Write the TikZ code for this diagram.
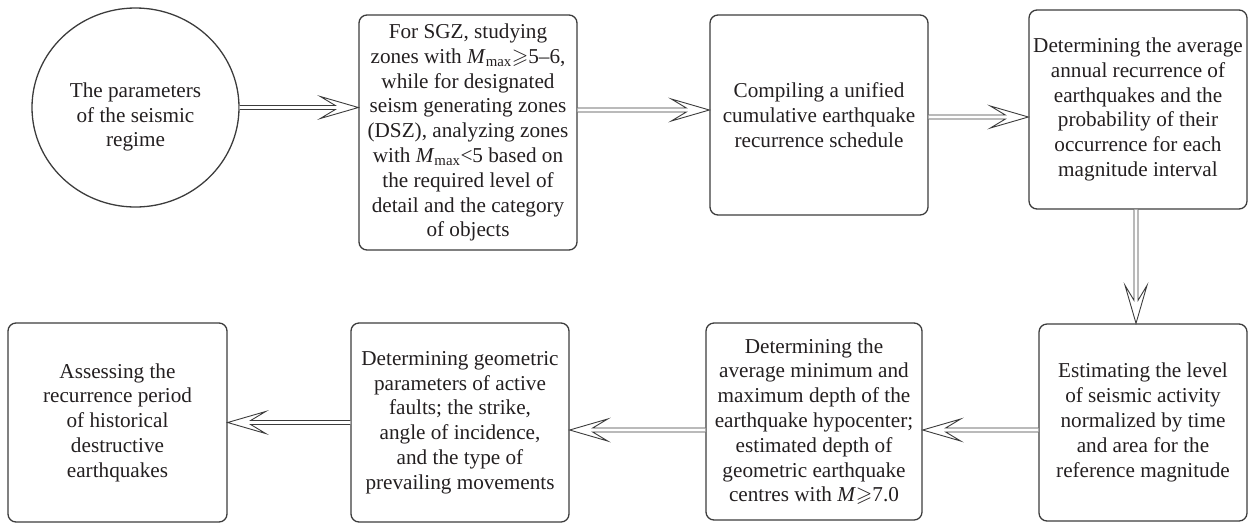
\documentclass[tikz,border=0pt]{standalone}
\usepackage{fontspec}
\setmainfont{Liberation Serif}
\usepackage{amssymb}
\usetikzlibrary{calc,shapes.geometric}
\definecolor{linec}{RGB}{60,60,60}
\definecolor{txtc}{RGB}{35,31,32}
\tikzset{
  box/.style={draw=linec, line width=1.3pt, rounded corners=8pt, align=center,
    inner sep=0pt, font=\rmfamily\fontsize{21.2}{24.8}\selectfont, text=txtc},
  ringnode/.style={draw=linec, line width=1.3pt, ellipse, inner sep=0pt},
  lbl/.style={align=center, inner sep=0pt, font=\rmfamily\fontsize{21.2}{24.8}\selectfont, text=txtc},
  arrowline/.style={draw=linec, line width=0.9pt, fill=white, line join=miter},
}
\newcommand{\hollowarrow}[2]{%
  \coordinate (haJ) at ($(#2)!23pt!(#1)$);
  \coordinate (haB) at ($(#2)!38pt!(#1)$);
  \draw[arrowline] ($(#1)!2pt!90:(#2)$) -- ($(haJ)!2pt!90:(#2)$) -- ($(haB)!11pt!90:(#2)$)
    -- (#2) -- ($(haB)!11pt!-90:(#2)$) -- ($(haJ)!2pt!-90:(#2)$) -- ($(#1)!2pt!-90:(#2)$);
}
\newcommand{\Mmax}{\textit{M}\textsubscript{max}}
\begin{document}
\begin{tikzpicture}[x=1pt,y=-1pt]
\useasboundingbox (0,0) rectangle (1249,523);
% top row
\node[ringnode, minimum width=207pt, minimum height=199pt] (circ) at (135.5,107.5) {};
\node[lbl] (circtext) at (135.5,117) {The parameters\\of the seismic\\regime};
\node[box, minimum width=218pt, minimum height=235pt] (b2) at (468,132.5)
  {For SGZ, studying\\zones with \Mmax$\geqslant$5--6,\\while for designated\\seism generating zones\\(DSZ), analyzing zones\\with \Mmax{}<5 based on\\the required level of\\detail and the category\\of objects};
\node[box, minimum width=218pt, minimum height=200pt] (b3) at (819,115)
  {Compiling a unified\\cumulative earthquake\\recurrence schedule};
\node[box, minimum width=218pt, minimum height=199pt] (b4) at (1138,109.5)
  {Determining the average\\annual recurrence of\\earthquakes and the\\probability of their\\occurrence for each\\magnitude interval};
% bottom row
\node[box, minimum width=208pt, minimum height=197pt] (b5) at (1143,422.5)
  {Estimating the level\\of seismic activity\\normalized by time\\and area for the\\reference magnitude};
\node[box, minimum width=216pt, minimum height=197pt] (b6) at (814,421.5)
  {Determining the\\average minimum and\\maximum depth of the\\earthquake hypocenter;\\estimated depth of\\geometric earthquake\\centres with \textit{M}$\geqslant$7.0};
\node[box, minimum width=218pt, minimum height=199pt] (b7) at (460,422.5)
  {Determining geometric\\parameters of active\\faults; the strike,\\angle of incidence,\\and the type of\\prevailing movements};
\node[box, minimum width=219pt, minimum height=199pt] (b1) at (117.5,422.5)
  {Assessing the\\recurrence period\\of historical\\destructive\\earthquakes};
% connectors
\coordinate (a1s) at (circ.0);
\coordinate (a1t) at (b2.west |- a1s);
\hollowarrow{a1s}{a1t}
\coordinate (a2t) at ($(b3.west)+(0,-5)$);
\coordinate (a2s) at (b2.east |- a2t);
\hollowarrow{a2s}{a2t}
\coordinate (a3s) at ($(b3.east)+(0,2)$);
\coordinate (a3t) at (b4.west |- a3s);
\hollowarrow{a3s}{a3t}
\coordinate (a4s) at ($(b4.south)+(-2,0)$);
\coordinate (a4t) at (a4s |- b5.north);
\hollowarrow{a4s}{a4t}
\coordinate (a5s) at ($(b5.west)+(0,7.5)$);
\coordinate (a5t) at (b6.east |- a5s);
\hollowarrow{a5s}{a5t}
\coordinate (a6s) at (b6.west |- a5s);
\coordinate (a6t) at (b7.east |- a6s);
\hollowarrow{a6s}{a6t}
\coordinate (a7s) at (b7.west);
\coordinate (a7t) at (b1.east |- a7s);
\hollowarrow{a7s}{a7t}
\end{tikzpicture}
\end{document}
